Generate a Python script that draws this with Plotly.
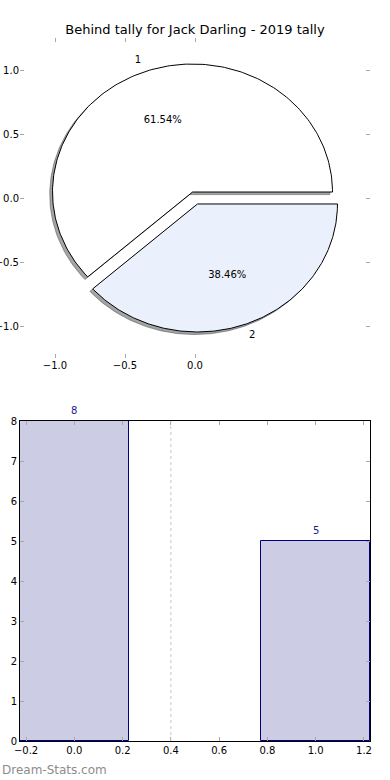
import numpy as np
import plotly.graph_objects as go

# ---------------- data ----------------
title_text = "Behind tally for Jack Darling - 2019 tally"

pie_labels = ["1", "2"]
pie_values = [8, 5]
pie_colors = ["#FFFFFF", "#EAF0FC"]
pie_explode = [0.05, 0.05]

pie_xticks = [-1.0, -0.5, 0.0]
pie_yticks = [-1.0, -0.5, 0.0, 0.5, 1.0]

bar_x = [0, 1]
bar_values = [8, 5]
bar_xticks = [-0.2, 0.0, 0.2, 0.4, 0.6, 0.8, 1.0, 1.2]
bar_yticks = [0, 1, 2, 3, 4, 5, 6, 7, 8]
ref_line_x = 0.4

watermark = "Dream-Stats.com"

# ---------------- style ----------------
FONT = "DejaVu Sans"
TICK_GRAY = "#a8a8a8"
BAR_FILL = "#CCCCE4"
BAR_EDGE = "#000080"
LABEL_BLUE = "#1a1a8c"
SHADOW_OFF = 0.02
LABEL_DIST = 1.1
PCT_DIST = 0.6

fig = go.Figure()

# ---------------- pie built from wedges ----------------
vals = np.asarray(pie_values, dtype=float)
fracs = vals / vals.sum()
edges = np.concatenate([[0.0], np.cumsum(fracs) * 360.0])

wedges = []
for i, f in enumerate(fracs):
    t1, t2 = edges[i], edges[i + 1]
    mid = np.deg2rad((t1 + t2) / 2)
    dx = pie_explode[i] * np.cos(mid)
    dy = pie_explode[i] * np.sin(mid)
    th = np.deg2rad(np.linspace(t1, t2, 200))
    px = np.concatenate([[0.0], np.cos(th), [0.0]]) + dx
    py = np.concatenate([[0.0], np.sin(th), [0.0]]) + dy
    wedges.append((px, py, mid, dx, dy, f))

# shadows first (below all wedges)
for i, (px, py, mid, dx, dy, f) in enumerate(wedges):
    c = pie_colors[i].lstrip("#")
    rgb = [int(c[k:k + 2], 16) for k in (0, 2, 4)]
    sc = "rgba(%d,%d,%d,0.5)" % tuple(int(0.3 * v) for v in rgb)
    fig.add_trace(go.Scatter(
        x=px - SHADOW_OFF, y=py - SHADOW_OFF, mode="lines", fill="toself",
        fillcolor=sc, line=dict(color=sc, width=1),
        hoverinfo="skip", showlegend=False, xaxis="x", yaxis="y"))

for i, (px, py, mid, dx, dy, f) in enumerate(wedges):
    fig.add_trace(go.Scatter(
        x=px, y=py, mode="lines", fill="toself",
        fillcolor=pie_colors[i], line=dict(color="black", width=1),
        hoverinfo="skip", showlegend=False, xaxis="x", yaxis="y"))

# labels and percentages
for i, (px, py, mid, dx, dy, f) in enumerate(wedges):
    fig.add_trace(go.Scatter(
        x=[LABEL_DIST * np.cos(mid) + dx, PCT_DIST * np.cos(mid) + dx],
        y=[LABEL_DIST * np.sin(mid) + dy, PCT_DIST * np.sin(mid) + dy],
        mode="text", text=[pie_labels[i], "%.2f%%" % (f * 100)],
        textposition="middle center",
        textfont=dict(family=FONT, size=10, color="black"),
        hoverinfo="skip", showlegend=False, cliponaxis=False,
        xaxis="x", yaxis="y"))

# ---------------- bar chart ----------------
fig.add_trace(go.Bar(
    x=bar_x, y=bar_values, width=0.45,
    marker=dict(color=BAR_FILL, line=dict(color=BAR_EDGE, width=1)),
    hoverinfo="skip", showlegend=False, xaxis="x2", yaxis="y2"))

fig.add_shape(type="line", xref="x2", yref="y2 domain",
              x0=ref_line_x, x1=ref_line_x, y0=0, y1=1,
              line=dict(color="#c8c8c8", width=1, dash="dot"))

annotations = []
for xv, yv in zip(bar_x, bar_values):
    annotations.append(dict(
        x=xv, y=yv, xref="x2", yref="y2", text=str(yv), showarrow=False,
        xanchor="center", yanchor="bottom", yshift=3,
        font=dict(family=FONT, size=10, color=LABEL_BLUE)))

# ---------------- layout ----------------
W, H = 390, 780
xd = [20 / W, 370 / W]

tickfont = dict(family=FONT, size=10, color="black")

annotations.append(dict(text=watermark, xref="paper", yref="paper",
                        x=0, y=1 - 770 / H, xanchor="left", yanchor="middle",
                        showarrow=False,
                        font=dict(family=FONT, size=12, color="#8c8c8c")))

common = dict(ticks="inside", ticklen=4, tickcolor=TICK_GRAY, tickwidth=1,
              mirror="ticks", showgrid=False, zeroline=False,
              tickfont=tickfont, fixedrange=True, automargin=False)

fig.update_layout(
    template="none",
    width=W, height=H, autosize=False,
    margin=dict(l=0, r=0, t=0, b=0, pad=0),
    paper_bgcolor="white", plot_bgcolor="white",
    font=dict(family=FONT, size=10, color="black"),
    title=dict(text=title_text, x=0.5, xanchor="center",
               y=1 - 29 / H, yanchor="middle",
               font=dict(family=FONT, size=13, color="black")),
    xaxis=dict(domain=xd, range=[-1.25, 1.25], tickvals=pie_xticks,
               tickformat=".1f", showline=False, anchor="y", **common),
    yaxis=dict(domain=[1 - 358 / H, 1 - 38 / H], range=[-1.25, 1.25],
               tickvals=pie_yticks, tickformat=".1f", showline=False,
               anchor="x", **common),
    xaxis2=dict(domain=xd, range=[-0.225, 1.225], tickvals=bar_xticks,
                tickformat=".1f", showline=True, linecolor="black",
                linewidth=1, anchor="y2", **common),
    yaxis2=dict(domain=[1 - 741 / H, 1 - 421 / H], range=[0, 8],
                tickvals=bar_yticks, showline=True, linecolor="black",
                linewidth=1, anchor="x2", **common),
    annotations=annotations,
    bargap=0,
    showlegend=False,
)

fig.write_html(
    "out.html",
    config={"displayModeBar": False},
    post_script="document.body.style.margin='0';"
                "document.body.style.overflow='hidden';",
)
